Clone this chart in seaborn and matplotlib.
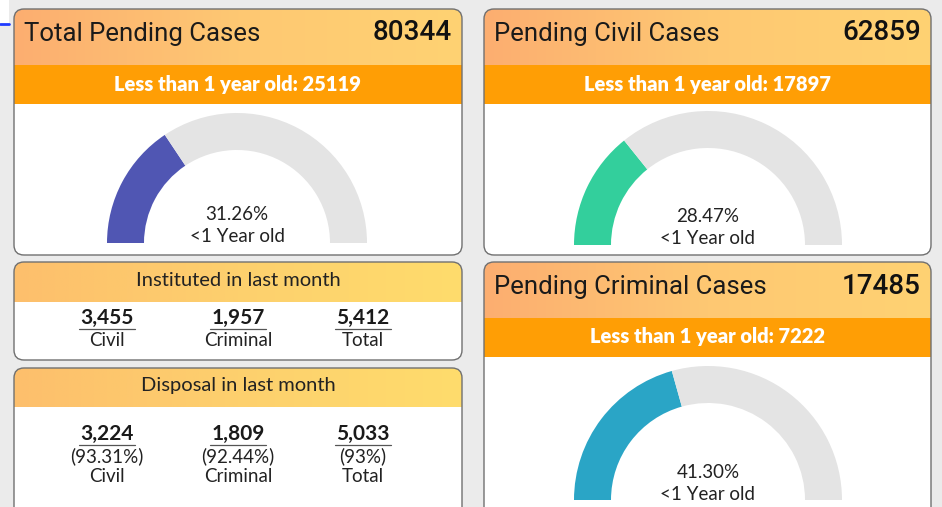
import numpy as np
import matplotlib
matplotlib.use("Agg")
import matplotlib.pyplot as plt
from matplotlib.patches import FancyBboxPatch, Rectangle
from matplotlib.colors import LinearSegmentedColormap
import seaborn as sns

sns.set_theme(style="white")
plt.rcParams['font.family'] = ['Lato', 'DejaVu Sans']

# ---------------- data ----------------
gauge_titles = ["Total Pending Cases", "Pending Civil Cases", "Pending Criminal Cases"]
gauge_totals = [80344, 62859, 17485]
gauge_recent = [25119, 17897, 7222]
gauge_pct = [31.26, 28.47, 41.30]
gauge_colors = sns.color_palette(["#5056b3", "#33cf9c", "#2aa5c6"])

case_labels = ["Civil", "Criminal", "Total"]
inst_values = [3455, 1957, 5412]
disp_values = [3224, 1809, 5033]
disp_pct = [93.31, 92.44, 93]

# ---------------- layout (pixels) ----------------
W, H = 942, 507
fig = plt.figure(figsize=(W / 100, H / 100), dpi=100)
ax = fig.add_axes([0, 0, 1, 1])
fig.patch.set_facecolor("#ebebeb")
ax.set_facecolor("#ebebeb")

def Y(py):
    return H - py

hdr_cmap = LinearSegmentedColormap.from_list("hdr", ["#fcae70", "#fec873", "#ffd272"])
hdr_cmap2 = LinearSegmentedColormap.from_list("hdr2", ["#fdbf6c", "#fdd06e", "#ffdc6c"])
band_col = "#ff9e05"
edge_col = "#707070"
txt = "#222222"

def card(x0, x1, y0, y1, hdr_bottom, cmap, band=None):
    shape = FancyBboxPatch((x0, Y(y1)), x1 - x0, y1 - y0,
                           boxstyle="round,pad=0,rounding_size=10",
                           fc="white", ec="none", zorder=1)
    ax.add_patch(shape)
    grad = np.linspace(0, 1, 200).reshape(1, -1)
    im = ax.imshow(grad, cmap=cmap, extent=(x0, x1, Y(hdr_bottom), Y(y0)),
                   aspect="auto", zorder=2, interpolation="bicubic")
    im.set_clip_path(shape)
    if band is not None:
        r = Rectangle((x0, Y(band[1])), x1 - x0, band[1] - band[0], fc=band_col, ec="none", zorder=2)
        ax.add_patch(r)
        r.set_clip_path(shape)
    ax.add_patch(FancyBboxPatch((x0, Y(y1)), x1 - x0, y1 - y0,
                                boxstyle="round,pad=0,rounding_size=10",
                                fc="none", ec=edge_col, lw=1.0, zorder=6))

def gauge(cx, cy, R, pct, color, title, total, recent, card_box):
    x0, x1, y0, y1 = card_box
    card(x0, x1, y0, y1, y0 + 56, hdr_cmap, band=(y0 + 56, y0 + 95))
    ax.text(x0 + 10, Y(y0 + 25), title, fontsize=18.5, family=["Roboto", "DejaVu Sans"],
            color="#1a1a1a", ha="left", va="center", zorder=7)
    ax.text(x1 - 10, Y(y0 + 24), f"{total}", fontsize=20, family=["Roboto", "DejaVu Sans"],
            fontweight="medium", color="#111111", ha="right", va="center", zorder=7)
    ax.text((x0 + x1) / 2, Y(y0 + 75), f"Less than 1 year old: {recent}", fontsize=14.5,
            fontweight="heavy", color="white", ha="center", va="center", zorder=7)
    ax.pie([pct, 100 - pct, 100], colors=[color, "#e4e4e4", "none"], startangle=180,
           counterclock=False, radius=R, center=(cx, Y(cy)), frame=True,
           wedgeprops=dict(width=37, lw=0, zorder=3))
    ax.text(cx, Y(cy - 28), f"{pct:.2f}%", fontsize=13.5, color=txt,
            ha="center", va="center", zorder=7)
    ax.text(cx, Y(cy - 6), "<1 Year old", fontsize=13.5, color=txt,
            ha="center", va="center", zorder=7)

# small artefacts at top-left
ax.add_patch(Rectangle((0, Y(24)), 9, 24, fc="white", ec="none", zorder=0))
ax.plot([0, 9], [Y(24), Y(24)], color="#1f3bff", lw=2, zorder=0)

# gauges
gauge(237, 243, 130, gauge_pct[0], gauge_colors[0], gauge_titles[0], gauge_totals[0],
      gauge_recent[0], (14, 462, 9, 255))
gauge(708, 245, 134, gauge_pct[1], gauge_colors[1], gauge_titles[1], gauge_totals[1],
      gauge_recent[1], (484, 931, 9, 255))
gauge(708, 500, 134, gauge_pct[2], gauge_colors[2], gauge_titles[2], gauge_totals[2],
      gauge_recent[2], (484, 931, 262, 520))

# instituted / disposal cards
col_x = [107, 238, 363]

def underlined(x, y, s):
    t = ax.text(x, Y(y), s, fontsize=15, fontweight="bold", color="#1a1a1a",
                ha="center", va="center", zorder=7)
    ax.plot([x - 28, x + 28], [Y(y + 11), Y(y + 11)], color="#555555", lw=0.9, zorder=7)
    return t

card(14, 462, 262, 360, 302, hdr_cmap2)
ax.text(238, Y(281), "Instituted in last month", fontsize=14.5, color=txt,
        ha="center", va="center", zorder=7)
for x, v, lab in zip(col_x, inst_values, case_labels):
    underlined(x, 318, f"{v:,}")
    ax.text(x, Y(340), lab, fontsize=13.5, color=txt, ha="center", va="center", zorder=7)

card(14, 462, 368, 520, 407, hdr_cmap2)
ax.text(238, Y(386), "Disposal in last month", fontsize=14.5, color=txt,
        ha="center", va="center", zorder=7)
for x, v, p, lab in zip(col_x, disp_values, disp_pct, case_labels):
    underlined(x, 434, f"{v:,}")
    ax.text(x, Y(456), f"({p:g}%)", fontsize=13.5, color=txt, ha="center", va="center", zorder=7)
    ax.text(x, Y(477), lab, fontsize=13.5, color=txt, ha="center", va="center", zorder=7)

ax.set_xlim(0, W)
ax.set_ylim(0, H)
ax.set_aspect("auto")
ax.axis("off")
fig.savefig("out.png", dpi=100, facecolor=fig.get_facecolor())
